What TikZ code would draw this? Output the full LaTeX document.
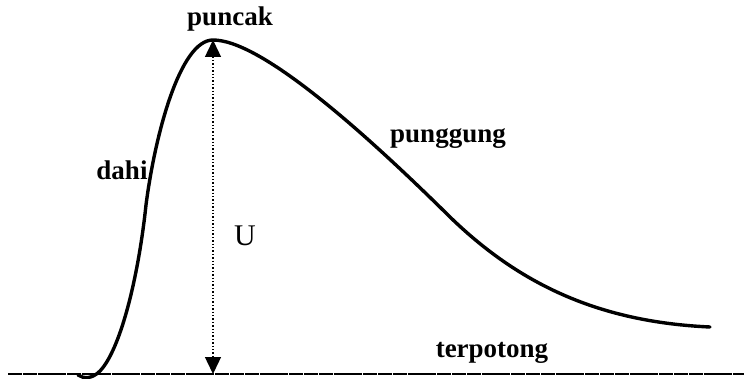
\documentclass[tikz,border=0pt]{standalone}
\usepackage{fontspec}
\setmainfont{Liberation Serif}
\usetikzlibrary{arrows.meta}

\begin{document}
\begin{tikzpicture}[x=1pt,y=-1pt,
  lbl/.style={inner sep=0pt,font=\bfseries\fontsize{27}{30}\selectfont},
  wave/.style={line width=3.4pt,line cap=round}]
  \useasboundingbox (0,0) rectangle (744,379);
  \draw[line width=1.3pt,dash pattern=on 14pt off 0.8pt] (8,374) -- (744,374);
  \draw[wave] (78,375) .. controls (84,379) and (92,379) .. (100,371)
    .. controls (120,350) and (138,280) .. (146,205)
    .. controls (155,135) and (180,40) .. (213,40)
    .. controls (260,40) and (360,128) .. (450,217)
    .. controls (520,285) and (600,322) .. (710,327);
  \coordinate (peak) at (213,40);
  \coordinate (base) at (213,374);
  \draw[line width=1.4pt,dotted,{Triangle[width=16pt,length=17pt]}-{Triangle[width=16pt,length=17pt]}] (peak) -- (base);
  \node[lbl] (puncak) at (230,19) {puncak};
  \node[lbl] (dahi) at (122,170) {dahi};
  \node[lbl] (punggung) at (448,139) {punggung};
  \node[lbl] (terpotong) at (492,353) {terpotong};
  \node[inner sep=0pt,font=\fontsize{30}{32}\selectfont] (U) at (245,236) {U};
\end{tikzpicture}
\end{document}
